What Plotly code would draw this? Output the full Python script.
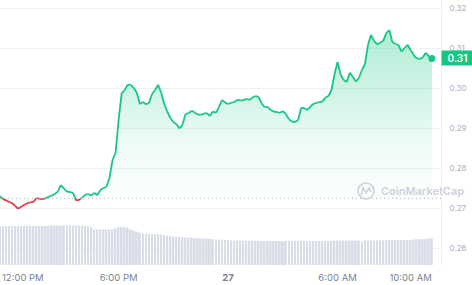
import plotly.graph_objects as go
import pandas as pd

# ---- data ----
prices = [
    0.2730, 0.2722, 0.2719, 0.2715, 0.2712, 0.2705, 0.2698, 0.2703, 0.2708, 0.2712,
    0.2714, 0.2715, 0.2725, 0.2723, 0.2722, 0.2724, 0.2728, 0.2731, 0.2735, 0.2741,
    0.2757, 0.2749, 0.2741, 0.2740, 0.2738, 0.2719, 0.2720, 0.2726, 0.2733, 0.2735,
    0.2731, 0.2738, 0.2732, 0.2745, 0.2750, 0.2753, 0.2775, 0.2820, 0.2838, 0.2920,
    0.2987, 0.2995, 0.3008, 0.3008, 0.3000, 0.2988, 0.2960, 0.2965, 0.2959, 0.2963,
    0.2985, 0.2995, 0.3008, 0.2988, 0.2960, 0.2941, 0.2925, 0.2915, 0.2910, 0.2899,
    0.2908, 0.2935, 0.2937, 0.2943, 0.2939, 0.2934, 0.2933, 0.2936, 0.2937, 0.2930,
    0.2941, 0.2938, 0.2953, 0.2970, 0.2964, 0.2960, 0.2963, 0.2965, 0.2970, 0.2969,
    0.2969, 0.2973, 0.2970, 0.2976, 0.2980, 0.2978, 0.2962, 0.2952, 0.2953, 0.2945,
    0.2941, 0.2940, 0.2938, 0.2942, 0.2935, 0.2922, 0.2916, 0.2915, 0.2920, 0.2950,
    0.2950, 0.2945, 0.2953, 0.2960, 0.2963, 0.2965, 0.2966, 0.2976, 0.2980, 0.2995,
    0.3035, 0.3065, 0.3033, 0.3020, 0.3015, 0.3038, 0.3028, 0.3016, 0.3025, 0.3045,
    0.3060, 0.3108, 0.3133, 0.3118, 0.3109, 0.3113, 0.3118, 0.3137, 0.3145, 0.3115,
    0.3110, 0.3108, 0.3091, 0.3100, 0.3108, 0.3095, 0.3083, 0.3074, 0.3073, 0.3076,
    0.3088, 0.3079, 0.3074,
]
volumes = [
    39, 39, 39, 39, 39, 39, 39, 39, 39, 39,
    39, 39, 39, 39, 39, 39, 39, 39.5, 39.5, 39.5,
    39.5, 39.5, 39.5, 39.5, 39.5, 39.5, 39.5, 39.5, 39.5, 39,
    38, 35.5, 35.5, 35.5, 35.5, 35.5, 35.5, 35.5, 36.5, 38,
    38, 38, 37.5, 35.5, 34.5, 33.5, 32.5, 31.5, 31.5, 31.5,
    31, 31, 31, 30.5, 30, 29.5, 29, 28.5, 28.3, 28,
    27.8, 27.6, 27.4, 27.2, 27, 26.8, 26.6, 26.4, 26.2, 26,
    25.8, 25.6, 25.4, 25.2, 25, 25, 24.5, 24.5, 24.5, 24.5,
    24.3, 24.3, 24.3, 24.3, 24.3, 24.2, 24.2, 24.2, 24.2, 24.2,
    24, 24, 24, 24, 24, 24, 24, 24, 24, 24,
    24, 24, 24, 24, 24, 24, 24, 24, 24, 24,
    24.5, 24.5, 24.5, 24.5, 24.5, 24.5, 24.5, 24.5, 24.5, 23.5,
    24.5, 24.5, 24.5, 24.5, 24.5, 24.8, 24.8, 24.8, 24.8, 25,
    25, 25, 25, 25, 25, 25, 25.5, 25.5, 26, 26,
    26, 26.5, 26.5,
]
baseline_price = 0.2724
start_time = "2024-01-26 11:30"
interval = "10min"
price_ticks = [0.26, 0.27, 0.28, 0.29, 0.30, 0.31, 0.32]
price_tick_text = ["0.26", "0.27", "0.28", "0.29", "0.30", "0.31", "0.32"]
time_ticks = ["2024-01-26 18:00", "2024-01-27 00:00", "2024-01-27 06:00", "2024-01-27 10:00"]
time_tick_text = ["6:00 PM", "<b>27</b>", "6:00 AM", "10:00 AM"]
first_tick_text = "12:00 PM"
last_price_label = "0.31"

GREEN = "#16c784"
RED = "#ea3943"
FONT = "Inter"

times = pd.date_range(start_time, periods=len(prices), freq=interval)
t_ms = [t.value / 1e6 for t in times]

# split line into green (above baseline) and red (below) pieces
gx, gy, rx, ry = [], [], [], []
for k in range(len(prices) - 1):
    p0, p1 = prices[k], prices[k + 1]
    a0, a1 = p0 >= baseline_price, p1 >= baseline_price
    if a0 == a1:
        tx, ty = (gx, gy) if a0 else (rx, ry)
        tx += [t_ms[k], t_ms[k + 1], None]
        ty += [p0, p1, None]
    else:
        f = (baseline_price - p0) / (p1 - p0)
        tc = t_ms[k] + f * (t_ms[k + 1] - t_ms[k])
        first = (gx, gy) if a0 else (rx, ry)
        second = (rx, ry) if a0 else (gx, gy)
        first[0].extend([t_ms[k], tc, None]); first[1].extend([p0, baseline_price, None])
        second[0].extend([tc, t_ms[k + 1], None]); second[1].extend([baseline_price, p1, None])

def to_dt(lst):
    return [pd.Timestamp(v, unit="ms") if v is not None else None for v in lst]

fig = go.Figure()

fig.add_trace(go.Bar(
    x=times, y=volumes, yaxis="y2",
    marker=dict(color="#d9dde8", line=dict(width=0)),
    width=10 * 60 * 1000 * 0.6, hoverinfo="skip", showlegend=False,
))

fig.add_trace(go.Scatter(
    x=times, y=[baseline_price] * len(times), mode="lines",
    line=dict(width=0, color="rgba(0,0,0,0)"), showlegend=False, hoverinfo="skip",
))
fig.add_trace(go.Scatter(
    x=times, y=prices, mode="lines", fill="tonexty",
    line=dict(width=0, color="rgba(0,0,0,0)"),
    fillgradient=dict(type="vertical",
                      colorscale=[[0, "rgba(22,199,132,0.0)"], [0.35, "rgba(22,199,132,0.07)"],
                                  [1, "rgba(22,199,132,0.34)"]]),
    showlegend=False, hoverinfo="skip",
))

fig.add_trace(go.Scatter(x=to_dt(gx), y=gy, mode="lines",
                         line=dict(color=GREEN, width=1.8), showlegend=False))
fig.add_trace(go.Scatter(x=to_dt(rx), y=ry, mode="lines",
                         line=dict(color=RED, width=1.8), showlegend=False))
fig.add_trace(go.Scatter(x=[times[-1]], y=[prices[-1]], mode="markers",
                         marker=dict(color=GREEN, size=7), showlegend=False))

x_end = times[-1] + pd.Timedelta(minutes=30)

fig.add_shape(type="line", xref="paper", x0=0, x1=1, yref="y",
              y0=baseline_price, y1=baseline_price,
              line=dict(color="#aab0bc", width=1, dash="1px,3px"))

# last price badge
fig.add_annotation(xref="paper", x=1, xanchor="left", yref="y", y=prices[-1],
                   text=last_price_label, showarrow=False,
                   font=dict(family=FONT, size=10, color="white", weight=600),
                   bgcolor=GREEN, width=27, height=10, borderpad=2)

# first (clamped) time label
fig.add_annotation(xref="paper", x=0, xanchor="left", yref="paper", y=0, yanchor="top",
                   yshift=-5, text=first_tick_text, showarrow=False,
                   font=dict(family=FONT, size=9.5, color="#7a8396"))

# watermark
wm_y = 0.27425
fig.add_annotation(xref="paper", x=379 / 441, xanchor="left", yref="y", y=wm_y,
                   text="CoinMarketCap", showarrow=False,
                   font=dict(family=FONT, size=11, color="#ced2da", weight=600))
fig.add_shape(type="circle", xref="paper", yref="y", xsizemode="pixel", ysizemode="pixel",
              xanchor=366 / 441, yanchor=wm_y, x0=-8, x1=8, y0=-8, y1=8,
              line=dict(color="#ced2da", width=1.6))
fig.add_shape(type="path", xref="paper", yref="y", xsizemode="pixel", ysizemode="pixel",
              xanchor=366 / 441, yanchor=wm_y,
              path="M -5,-4 L -3,3 L 0,-2 L 3,3 L 5,-1",
              line=dict(color="#ced2da", width=1.6))

fig.update_layout(
    width=472, height=285,
    margin=dict(l=0, r=31, t=0, b=20),
    paper_bgcolor="white", plot_bgcolor="white",
    font=dict(family=FONT),
    bargap=0.3,
    xaxis=dict(
        type="date", range=[times[0], x_end],
        tickvals=time_ticks, ticktext=time_tick_text,
        showgrid=False, zeroline=False, showline=False,
        ticks="outside", ticklen=4, tickcolor="rgba(0,0,0,0)",
        tickfont=dict(family=FONT, size=9.5, color="#7a8396"),
    ),
    yaxis=dict(
        side="right", range=[0.25575, 0.322],
        tickvals=price_ticks, ticktext=price_tick_text,
        showgrid=True, gridcolor="#eff2f5", gridwidth=1,
        zeroline=False, showline=True, linecolor="#eff2f5", linewidth=1,
        ticks="outside", ticklen=6, tickcolor="rgba(0,0,0,0)",
        tickfont=dict(family=FONT, size=8, color="#a7b0c0"),
    ),
    yaxis2=dict(overlaying="y", range=[0, 265], visible=False),
    showlegend=False,
)

fig.write_html("out.html")
